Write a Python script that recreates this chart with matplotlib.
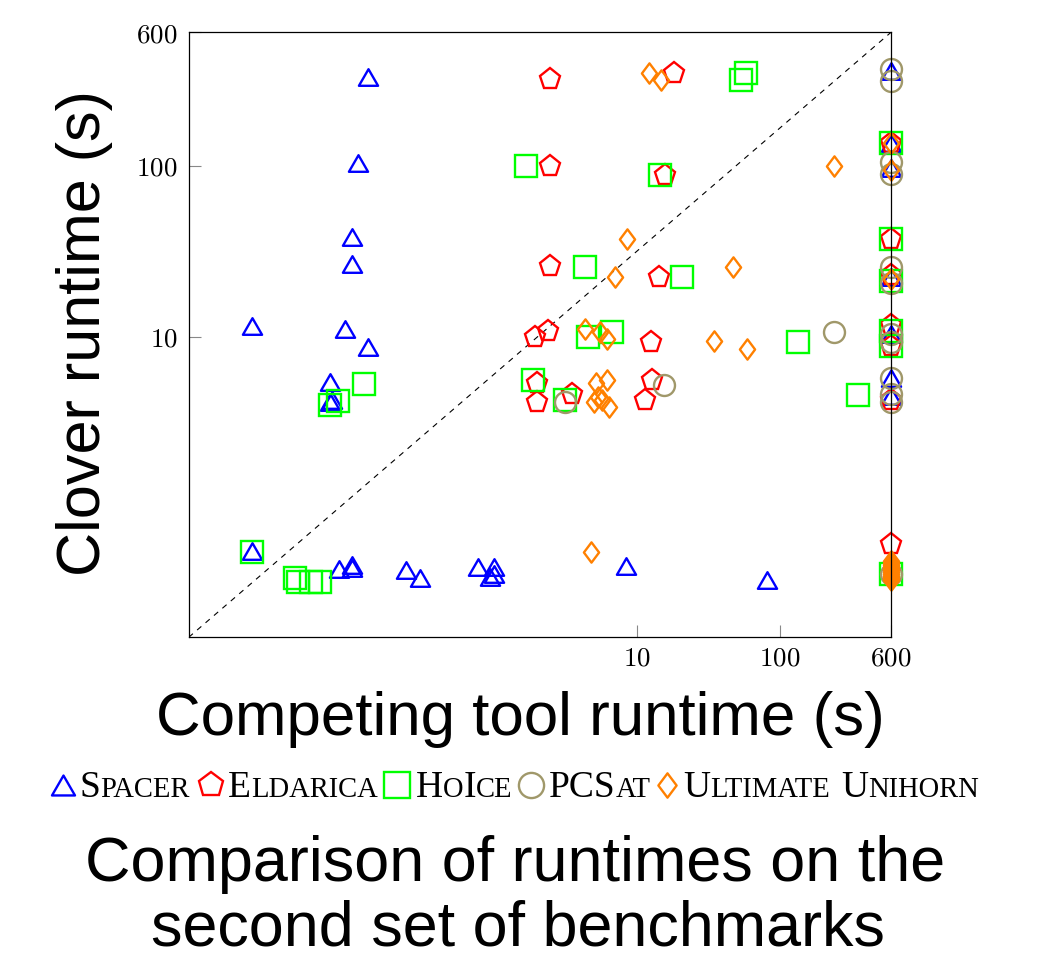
import matplotlib
matplotlib.use('Agg')
import matplotlib.pyplot as plt
from matplotlib.path import Path
from matplotlib.ticker import NullLocator

plt.rcParams['mathtext.fontset'] = 'cm'

# ---------------- data (runtimes in seconds) ----------------
spacer_x = [0.132, 0.111, 0.101, 0.101, 0.0203, 0.0908, 0.132, 0.0713, 0.0713, 0.0734,
            0.0203, 0.0816, 0.1016, 0.1016, 0.2425, 0.304, 0.778, 0.995, 0.944, 0.995,
            8.43, 81.7, 600, 600, 600, 600, 600, 600, 600]
spacer_y = [330, 103, 38.5, 26.7, 11.6, 11.1, 8.78, 5.48, 4.19, 4.28,
            0.566, 0.440, 0.467, 0.447, 0.4365, 0.390, 0.453, 0.456, 0.399, 0.4135,
            0.461, 0.381, 355, 135.7, 97, 22.4, 10.4, 5.77, 4.55]

eldarica_x = [2.48, 18.3, 2.48, 15.8, 2.48, 14.2, 1.93, 2.39, 12.5, 2.00, 2.00, 3.53,
              12.7, 11.3, 600, 600, 600, 600, 600, 600, 600]
eldarica_y = [319, 346, 99.6, 88.3, 26.0, 22.3, 10.0, 10.9, 9.39, 5.37, 4.19, 4.63,
              5.61, 4.29, 135.7, 37.1, 23.0, 11.8, 8.86, 4.31, 0.621]

hoice_x = [58.2, 53.7, 1.685, 14.6, 4.31, 20.6, 4.54, 6.69, 135, 0.122, 0.0811, 0.0706,
           1.87, 3.14, 351, 0.0203, 0.0406, 0.0424, 0.0523, 0.0607,
           600, 600, 600, 600, 600, 600]
hoice_y = [346, 316, 99.6, 88.3, 25.7, 22.3, 10.0, 10.7, 9.39, 5.30, 4.23, 4.01,
           5.61, 4.29, 4.59, 0.558, 0.392, 0.372, 0.372, 0.372,
           135.7, 37.1, 21.2, 10.9, 8.86, 0.416]

pcsat_x = [241, 15.4, 3.12, 600, 600, 600, 600, 600, 600, 600, 600, 600, 600, 600, 600]
pcsat_y = [10.7, 5.25, 4.19, 364, 310, 104.5, 89.1, 25.6, 20.6, 10.4, 9.35, 5.77, 4.67,
           4.20, 0.416]

unihorn_x = [12.1, 14.8, 239, 8.57, 6.98, 46.9, 4.31, 5.49, 6.17, 34.6, 59.2, 5.14, 6.17,
             5.34, 5.00, 5.73, 6.34, 4.80, 600, 600, 600,
             600, 600, 600, 600, 600, 600, 600, 600, 600, 600, 600, 600]
unihorn_y = [346, 316, 99.6, 37.2, 22.3, 25.7, 11.1, 10.7, 9.70, 9.52, 8.48, 5.37, 5.61,
             4.48, 4.19, 4.29, 3.92, 0.558, 135.7, 94.0, 21.8,
             0.490, 0.478, 0.466, 0.455, 0.445, 0.435, 0.425, 0.415, 0.405, 0.396, 0.388, 0.380]

tick_values = [10, 100, 600]
tick_labels = ['10', '100', '600']
x_limits = (0.00729, 600)
y_limits = (0.1766, 600)

series_names = ['Spacer', 'Eldarica', 'HoIce', 'PCSat', 'Ultimate Unihorn']

# ---------------- styling ----------------
W, H = 1054, 961
BLUE, RED, GREEN, OLIVE, ORANGE = '#0000FF', '#FF0000', '#00FF00', '#A0986A', '#FF8000'
LW = 1.7

tri = Path([(0, 0.866), (-1, -0.866), (1, -0.866), (0, 0.866)],
           [Path.MOVETO, Path.LINETO, Path.LINETO, Path.CLOSEPOLY])
dia = Path([(0, 1), (0.75, 0), (0, -1), (-0.75, 0), (0, 1)],
           [Path.MOVETO, Path.LINETO, Path.LINETO, Path.LINETO, Path.CLOSEPOLY])

styles = [
    dict(marker=tri, markersize=13.8, color=BLUE),
    dict(marker='p', markersize=15.5, color=RED),
    dict(marker='s', markersize=15.5, color=GREEN),
    dict(marker='o', markersize=15.1, color=OLIVE),
    dict(marker=dia, markersize=14.6, color=ORANGE),
]
data = [(spacer_x, spacer_y), (eldarica_x, eldarica_y), (hoice_x, hoice_y),
        (pcsat_x, pcsat_y), (unihorn_x, unihorn_y)]

fig = plt.figure(figsize=(W / 100, H / 100), dpi=100)
ax = fig.add_axes([188.7 / W, 1 - 637.3 / H, (891 - 188.7) / W, (637.3 - 32.3) / H])
ax.set_xscale('log')
ax.set_yscale('log')
ax.set_xlim(*x_limits)
ax.set_ylim(*y_limits)

# corner-to-corner dashed reference line
ax.plot([x_limits[0], x_limits[1]], [y_limits[0], y_limits[1]], color='black',
        lw=0.8, dashes=(5, 5), zorder=1)

for (xs, ys), st in zip(data, styles):
    ax.plot(xs, ys, linestyle='none', marker=st['marker'], markersize=st['markersize'],
            markerfacecolor='none', markeredgecolor=st['color'], markeredgewidth=LW,
            clip_on=False, zorder=3)

for sp in ax.spines.values():
    sp.set_linewidth(0.9)
    sp.set_zorder(4)

math_labels = ['$\\mathrm{%s}$' % s for s in tick_labels]
ax.set_xticks(tick_values, labels=math_labels, fontsize=19.5)
ax.set_yticks(tick_values, labels=math_labels, fontsize=19.5)
ax.xaxis.set_minor_locator(NullLocator())
ax.yaxis.set_minor_locator(NullLocator())
ax.tick_params(which='major', direction='in', length=8.6, width=0.8, color='#888888',
               top=False, right=False)
ax.tick_params(axis='y', pad=8.0)
ax.tick_params(axis='x', pad=6.0)

# ---------------- overlay for labels / legend ----------------
ov = fig.add_axes([0, 0, 1, 1], zorder=10)
ov.set_xlim(0, W)
ov.set_ylim(H, 0)
ov.axis('off')

SANS = 'Liberation Sans'
ov.text(520, 735, 'Competing tool runtime (s)', family=SANS, fontsize=44.6,
        ha='center', va='baseline')
ov.text(100, 333, 'Clover runtime (s)', family=SANS, fontsize=44,
        rotation=90, rotation_mode='anchor', ha='center', va='baseline')
ov.text(515, 881, 'Comparison of runtimes on the', family=SANS, fontsize=45.3,
        ha='center', va='baseline')
ov.text(518, 946, 'second set of benchmarks', family=SANS, fontsize=45.3,
        ha='center', va='baseline')

# legend with small caps
SERIF = 'Liberation Serif'
BIG, SMALL = 27, 20.6
renderer = fig.canvas.get_renderer()

def small_caps(x, y, pieces):
    for s, big in pieces:
        if s == ' ':
            x += 11
            continue
        t = ov.text(x, y, s, family=SERIF, fontsize=BIG if big else SMALL,
                    ha='left', va='baseline')
        x += t.get_window_extent(renderer).width

legend_pieces = [
    [('S', True), ('PACER', False)],
    [('E', True), ('LDARICA', False)],
    [('H', True), ('O', False), ('I', True), ('CE', False)],
    [('PCS', True), ('AT', False)],
    [('U', True), ('LTIMATE', False), (' ', False), ('U', True), ('NIHORN', False)],
]
marker_cx = [63, 211, 397, 531, 667]
text_x = [79, 228, 416, 549, 683]
for st, mx, tx, pcs in zip(styles, marker_cx, text_x, legend_pieces):
    ov.plot([mx], [785], linestyle='none', marker=st['marker'],
            markersize=st['markersize'] * 1.2, markerfacecolor='none',
            markeredgecolor=st['color'], markeredgewidth=LW)
    small_caps(tx, 797, pcs)

fig.savefig('out.png', dpi=100)
